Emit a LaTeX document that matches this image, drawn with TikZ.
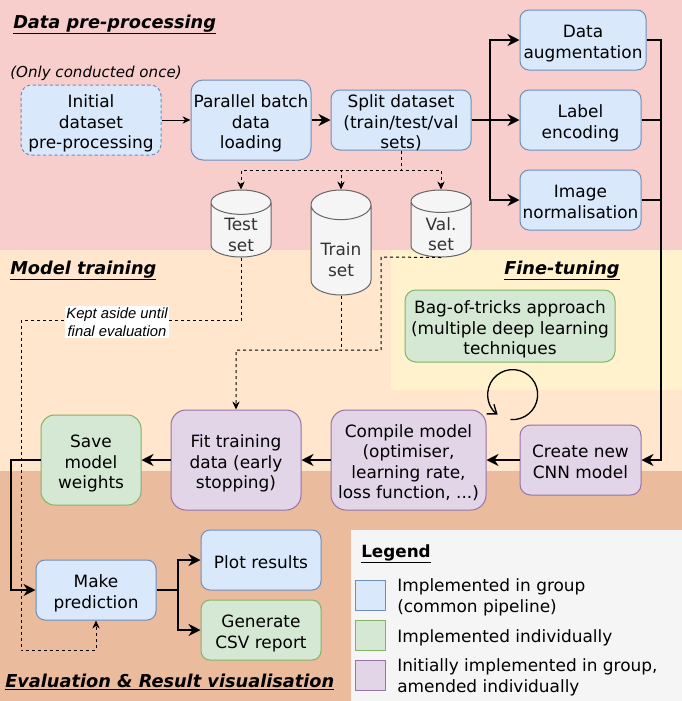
\documentclass[tikz,border=0pt]{standalone}
\usepackage{fontspec}
\setmainfont{DejaVu Sans}
\newfontfamily\notefont{Liberation Sans}
\definecolor{cBlue}{HTML}{DAE8FC}
\definecolor{cBlueLine}{HTML}{6C8EBF}
\definecolor{cGreen}{HTML}{D5E8D4}
\definecolor{cGreenLine}{HTML}{82B366}
\definecolor{cPurple}{HTML}{E1D5E7}
\definecolor{cPurpleLine}{HTML}{9673A6}
\definecolor{cGrey}{HTML}{F5F5F5}
\definecolor{cGreyLine}{HTML}{666666}
\definecolor{cPink}{HTML}{F8CECC}
\definecolor{cPeach}{HTML}{FFE6CC}
\definecolor{cYellow}{HTML}{FFF2CC}
\definecolor{cBrown}{HTML}{EBBB9E}
\usetikzlibrary{shapes.geometric,arrows.meta}
\newcommand{\Lift}[1][12pt]{\rule{0pt}{#1}}
\tikzset{
	boxsize/.style 2 args={minimum width=#1*0.75pt, minimum height=#2*0.75pt, rounded corners=#2*0.1125pt},
	flowbox/.style={draw, line width=0.75pt, inner xsep=0pt, inner ysep=-6pt, text depth=0pt, align=center, font=\fontsize{12.7}{15.4}\selectfont},
	bluebox/.style={flowbox, fill=cBlue, draw=cBlueLine},
	greenbox/.style={flowbox, fill=cGreen, draw=cGreenLine},
	purplebox/.style={flowbox, fill=cPurple, draw=cPurpleLine},
	dbset/.style={draw=cGreyLine, fill=cGrey, text=black!80, cylinder, shape border rotate=90, aspect=0.73, line width=0.75pt, minimum width=60*0.75pt, inner xsep=0pt, inner ysep=-14pt, text depth=0pt, align=center, anchor=shape center, font=\fontsize{12.7}{15.4}\selectfont},
	title/.style={anchor=base west, inner sep=0pt, font=\fontsize{13.3}{15}\selectfont\bfseries\itshape},
	legendtext/.style={anchor=base west, inner sep=0pt, font=\fontsize{12.7}{15.4}\selectfont},
	swatch/.style={draw, line width=0.75pt, minimum width=30*0.75pt, minimum height=30*0.75pt, inner sep=0pt},
	thin line/.style={line width=0.75pt, -{Stealth[length=6pt,width=5.5pt]}},
	thick line/.style={line width=1.5pt, -{Stealth[length=9pt,width=9pt]}},
	bare line/.style={line width=1.5pt},
	dash base/.style={line width=0.75pt, dash pattern=on 2.25pt off 2.25pt},
	dash line/.style={dash base, -{Stealth[length=6pt,width=5.5pt]}}
}
\begin{document}
\begin{tikzpicture}[x=0.75pt,y=-0.75pt]
	\useasboundingbox (0,0) rectangle (682,701);
	\fill [cPink] (0,0) rectangle (682,250);
	\fill [cPeach] (0,250) rectangle (682,471);
	\fill [cBrown] (0,471) rectangle (682,701);
	\fill [cYellow] (391,250) rectangle (682,390);
	\fill [cGrey] (351,530) rectangle (682,701);

	\node [title] (datatitle) at (13,28) {\underline{Data pre-processing}};
	\node [title] (modeltitle) at (10,274) {\underline{Model training}};
	\node [title] (tunetitle) at (504,274) {\underline{Fine-tuning}};
	\node [title] (evaltitle) at (5,687) {\underline{Evaluation \& Result visualisation}};
	\node [anchor=base, inner sep=0pt, font=\fontsize{11.3}{13}\selectfont\itshape] (oncetext) at (96,77) {(Only conducted once)};

	\node [bluebox, boxsize={140}{70}, dash pattern=on 2.5pt off 1.8pt] (initial) at (91,120) {\Lift Initial\\dataset\\pre-processing};
	\node [bluebox, boxsize={120}{80}] (parallel) at (251,120) {\Lift Parallel batch\\data\\loading};
	\node [bluebox, boxsize={140}{60}] (split) at (401,120) {\Lift Split dataset\\(train/test/val\\sets)};
	\node [bluebox, boxsize={126}{60}] (augment) at (583,40) {\Lift Data\\augmentation};
	\node [bluebox, boxsize={121}{60}] (encoding) at (580.5,120) {\Lift Label\\encoding};
	\node [bluebox, boxsize={121}{60}] (normal) at (580.5,200) {\Lift Image\\normalisation};

	\node [dbset, minimum height=67*0.75pt] (testset) at (241,223.5) {\Lift[17pt]Test\\set};
	\node [dbset, minimum height=105*0.75pt] (trainset) at (341,242.5) {\Lift[24pt]Train\\set};
	\node [dbset, minimum height=67*0.75pt] (valset) at (441,223.5) {\Lift[17pt]Val.\\set};

	\node [greenbox, boxsize={210}{72}] (tricks) at (510,326) {\Lift Bag-of-tricks approach\\(multiple deep learning\\techniques};
	\node [purplebox, boxsize={121}{70}] (create) at (580.5,460) {\Lift Create new\\CNN model};
	\node [purplebox, boxsize={155}{100}] (compile) at (408.5,460) {\Lift Compile model\\(optimiser,\\learning rate,\\loss function, ...)};
	\node [purplebox, boxsize={130}{100}] (fit) at (236,460) {\Lift Fit training\\data (early\\stopping)};
	\node [greenbox, boxsize={100}{90}] (save) at (91,460) {\Lift Save\\model\\weights};
	\node [bluebox, boxsize={120}{60}] (predict) at (96,590) {\Lift Make\\prediction};
	\node [bluebox, boxsize={120}{60}] (plot) at (261,560) {\Lift Plot results};
	\node [greenbox, boxsize={120}{60}] (report) at (261,630) {\Lift Generate\\CSV report};

	\coordinate (splitfork) at (490,120);
	\coordinate (mergeright) at (661,120);
	\coordinate (saveleft) at (11,460);
	\coordinate (predictfork) at (178,590);
	\coordinate (splitdash) at (401,170);
	\coordinate (testcorner) at (21,320);
	\coordinate (testlow) at (21,650);
	\coordinate (testknee) at (241,320);
	\coordinate (trainknee) at (341,350);
	\coordinate (valknee) at (381,257);
	\coordinate (fitjoin) at (fit.north |- trainknee);
	\coordinate (loopstart) at (510.5,419.5);

	\draw [thin line] (initial) -- (parallel);
	\draw [thick line] (parallel) -- (split);
	\foreach \target in {augment,encoding,normal}
		\draw [thick line] (split.east) -- (splitfork) |- (\target.west);
	\draw [bare line] (augment.east) -| (mergeright);
	\draw [bare line] (encoding.east) -- (mergeright);
	\draw [bare line] (normal.east) -| (mergeright);
	\draw [thick line] (mergeright) |- (create.east);
	\draw [thick line] (create) -- (compile);
	\draw [thick line] (compile) -- (fit);
	\draw [thick line] (fit) -- (save);
	\draw [thick line] (save.west) -- (saveleft) |- (predict.west);
	\draw [thick line] (predict.east) -- (predictfork) |- (plot.west);
	\draw [thick line] (predict.east) -- (predictfork) |- (report.west);

	\foreach \target in {testset,trainset,valset}
		\draw [dash line] (split.south) -- (splitdash) -| (\target.north);
	\draw [dash line] (testset.south) -- (testknee) -- (testcorner) -- (testlow) -| (predict.south);
	\draw [dash base] (trainset.south) -- (trainknee);
	\draw [dash line] (valset.south) -- (valknee) |- (fitjoin) -- (fit.north);
	\node [fill=white, inner sep=1pt, align=center, font=\notefont\fontsize{11.1}{13.5}\selectfont\itshape] (keptnote) at (117,322) {Kept aside until\\final evaluation};

	\draw [line width=1pt, -{Straight Barb[length=6pt,width=9pt]}] (loopstart) arc[start angle=-95, end angle=233, radius=18.75pt];

	\node [anchor=base west, inner sep=0pt, font=\fontsize{12.6}{15}\selectfont\bfseries] (legendtitle) at (361,557) {\underline{Legend}};
	\node [swatch, draw=cBlueLine, fill=cBlue] (swatchblue) at (370,595) {};
	\node [swatch, draw=cGreenLine, fill=cGreen] (swatchgreen) at (370,635) {};
	\node [swatch, draw=cPurpleLine, fill=cPurple] (swatchpurple) at (370,675) {};
	\node [legendtext] (groupa) at (397,591) {Implemented in group};
	\node [legendtext] (groupb) at (397,612) {(common pipeline)};
	\node [legendtext] (individual) at (397,642) {Implemented individually};
	\node [legendtext] (amenda) at (397,671) {Initially implemented in group,};
	\node [legendtext] (amendb) at (397,692) {amended individually};
\end{tikzpicture}
\end{document}
